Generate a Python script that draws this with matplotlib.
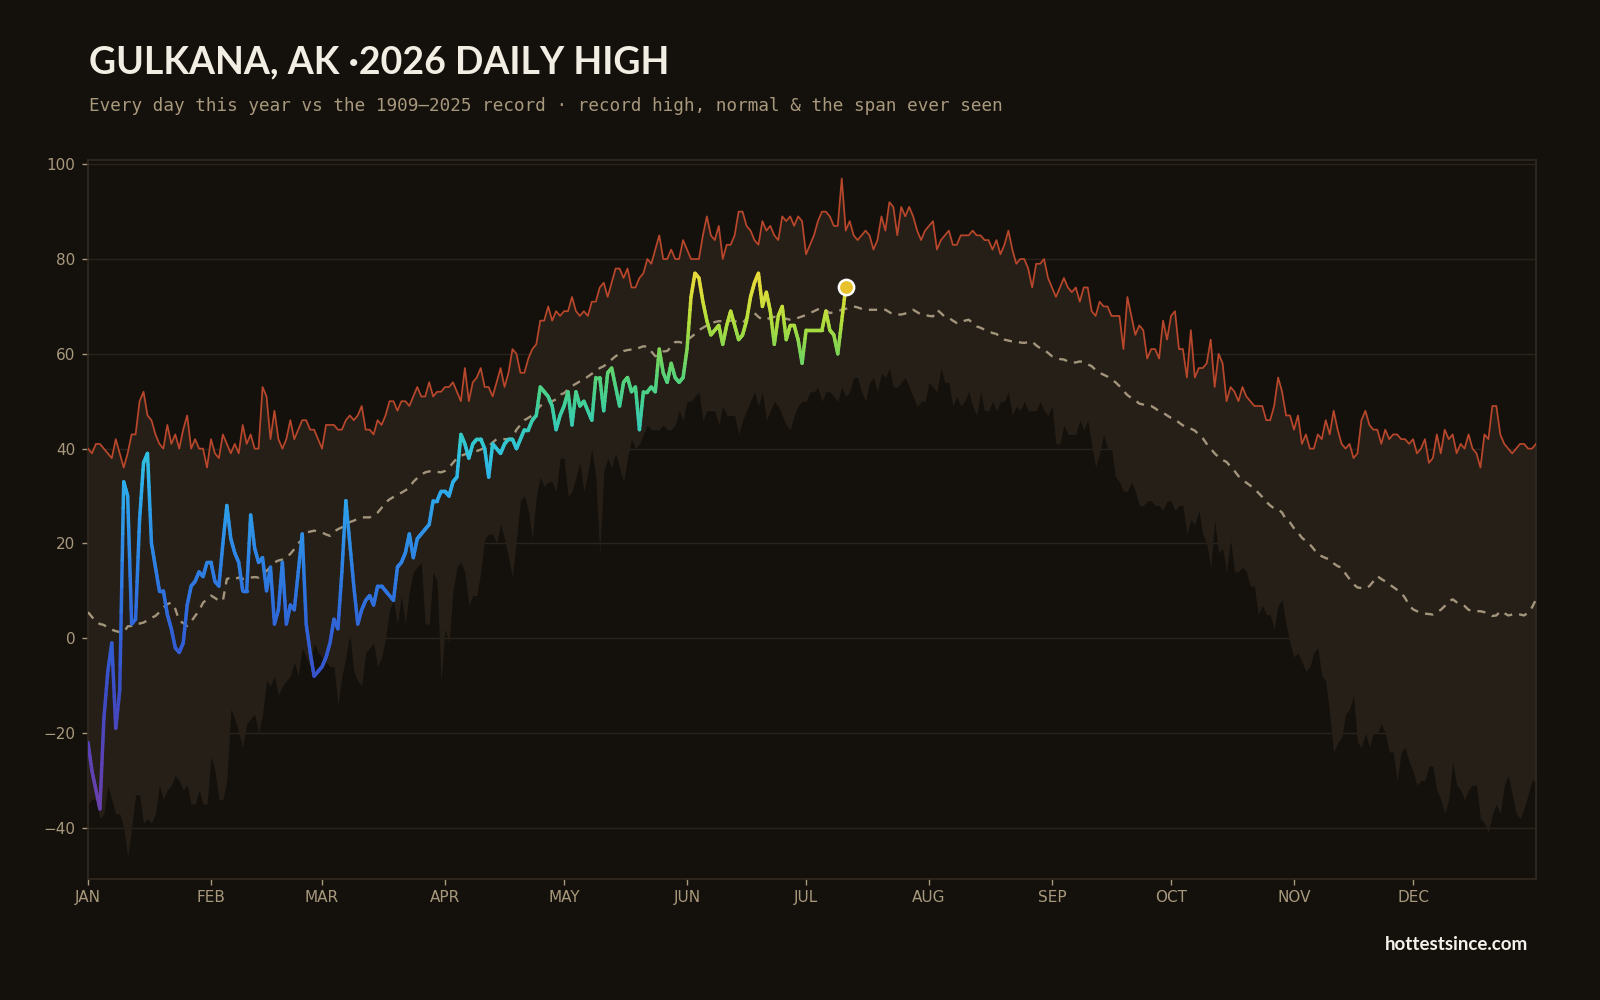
import numpy as np
import matplotlib
matplotlib.use("Agg")
import matplotlib.pyplot as plt
from matplotlib.collections import LineCollection
from matplotlib.colors import LinearSegmentedColormap, Normalize

# ---------------- data ----------------
month_labels = ["JAN", "FEB", "MAR", "APR", "MAY", "JUN", "JUL", "AUG", "SEP", "OCT", "NOV", "DEC"]
month_start = [0, 31, 59, 90, 120, 151, 181, 212, 243, 273, 304, 334]
y_ticks = [-40, -20, 0, 20, 40, 60, 80, 100]

record_high = [
    40, 39, 41, 41, 40, 39, 38, 42, 39, 36,
    39, 43, 43, 50, 52, 47, 46, 43, 41, 40,
    45, 41, 43, 40, 44, 47, 40, 42, 40, 40,
    36, 42, 39, 38, 43, 41, 39, 41, 39, 45,
    41, 43, 40, 40, 53, 51, 42, 48, 42, 40,
    42, 46, 42, 44, 46, 46, 44, 44, 42, 40,
    45, 45, 45, 44, 44, 46, 47, 46, 47, 49,
    44, 44, 43, 46, 45, 47, 50, 50, 48, 50,
    50, 49, 51, 53, 51, 51, 54, 51, 52, 52,
    53, 53, 54, 52, 50, 57, 50, 54, 55, 57,
    53, 53, 51, 54, 57, 53, 56, 61, 60, 56,
    56, 59, 61, 62, 67, 67, 70, 67, 69, 68,
    69, 69, 72, 69, 68, 69, 68, 71, 71, 74,
    75, 72, 75, 78, 78, 76, 78, 74, 74, 76,
    77, 80, 79, 82, 85, 80, 80, 82, 80, 80,
    84, 82, 80, 80, 80, 85, 89, 85, 84, 87,
    80, 83, 83, 85, 90, 90, 87, 86, 84, 83,
    88, 86, 87, 85, 84, 89, 88, 89, 87, 89,
    88, 81, 83, 85, 88, 90, 90, 89, 87, 87,
    97, 86, 88, 85, 84, 85, 86, 85, 82, 84,
    89, 86, 92, 91, 85, 91, 89, 91, 89, 86,
    84, 86, 87, 88, 82, 84, 85, 86, 83, 83,
    85, 85, 85, 86, 85, 85, 84, 84, 82, 84,
    81, 83, 86, 82, 79, 80, 80, 78, 74, 79,
    79, 80, 76, 74, 72, 74, 76, 74, 73, 74,
    71, 74, 74, 69, 68, 71, 70, 70, 68, 68,
    68, 61, 72, 68, 64, 66, 65, 59, 61, 61,
    59, 67, 63, 68, 69, 61, 61, 55, 65, 55,
    57, 57, 58, 63, 53, 60, 58, 50, 53, 52,
    50, 53, 51, 50, 49, 49, 49, 46, 46, 49,
    55, 52, 47, 47, 44, 47, 41, 43, 40, 40,
    43, 42, 46, 43, 48, 44, 41, 40, 41, 38,
    39, 46, 48, 45, 44, 44, 41, 44, 42, 43,
    43, 42, 42, 41, 42, 39, 40, 42, 37, 38,
    43, 39, 44, 42, 43, 39, 41, 40, 43, 40,
    39, 36, 43, 42, 49, 49, 43, 41, 40, 39,
    40, 41, 41, 40, 40, 41,
]

record_low = [
    -35, -34, -34, -38, -37, -31, -34, -37, -37, -40,
    -46, -40, -33, -33, -39, -38, -39, -37, -31, -34,
    -32, -31, -29, -30, -32, -31, -35, -35, -32, -35,
    -35, -25, -28, -34, -34, -30, -15, -17, -20, -23,
    -18, -17, -16, -20, -16, -9, -10, -8, -12, -10,
    -9, -8, -5, -8, -2, -4, -6, -1, -3, -4,
    -5, -6, -6, -14, -8, -4, 1, -7, -9, -10,
    -3, -2, -1, -6, -4, 0, 6, 8, 3, 9,
    3, 10, 14, 15, 16, 3, 3, 14, 12, -9,
    2, -1, 10, 15, 16, 14, 7, 9, 9, 14,
    21, 22, 22, 20, 24, 21, 17, 13, 21, 29,
    30, 27, 21, 30, 34, 32, 33, 33, 31, 38,
    38, 30, 31, 34, 37, 31, 35, 40, 34, 18,
    35, 38, 36, 39, 36, 33, 38, 42, 40, 41,
    43, 45, 44, 44, 44, 45, 44, 44, 45, 48,
    46, 50, 50, 51, 52, 46, 48, 48, 48, 45,
    49, 47, 47, 47, 43, 46, 48, 50, 52, 49,
    52, 46, 48, 50, 49, 47, 45, 44, 47, 49,
    50, 50, 52, 52, 53, 50, 52, 52, 51, 50,
    53, 51, 52, 55, 55, 52, 50, 54, 55, 52,
    56, 55, 57, 53, 53, 54, 55, 53, 51, 49,
    50, 50, 54, 53, 52, 57, 54, 54, 49, 51,
    49, 50, 52, 49, 47, 52, 48, 48, 50, 48,
    50, 50, 52, 47, 49, 48, 50, 48, 48, 48,
    50, 48, 47, 49, 41, 41, 45, 43, 43, 43,
    46, 44, 46, 41, 36, 39, 43, 40, 40, 34,
    33, 31, 31, 33, 31, 28, 28, 29, 29, 28,
    28, 27, 29, 29, 27, 28, 28, 22, 25, 24,
    27, 22, 20, 15, 25, 18, 19, 14, 21, 14,
    14, 15, 14, 11, 11, 5, 7, 5, 5, 2,
    7, 8, 3, -1, -4, -3, -5, -7, -6, -3,
    -2, -8, -9, -16, -24, -22, -21, -16, -15, -12,
    -22, -23, -20, -23, -20, -20, -18, -20, -24, -24,
    -30, -24, -23, -26, -28, -31, -30, -30, -27, -27,
    -32, -34, -37, -34, -26, -31, -32, -34, -32, -31,
    -31, -38, -39, -41, -37, -35, -37, -31, -29, -33,
    -37, -38, -36, -33, -30, -30,
]

normal = [
    5.5, 4.5, 3.5, 3.0, 2.8, 2.2, 1.8, 1.5, 1.3, 1.2,
    2.5, 2.6, 3.0, 3.1, 3.3, 3.8, 4.3, 4.7, 5.5, 6.5,
    7.2, 7.5, 6.2, 3.7, 3.2, 2.6, 3.5, 4.7, 5.8, 7.5,
    8.2, 9.0, 8.5, 7.9, 7.9, 12.5, 12.8, 12.5, 12.8, 12.5,
    12.8, 12.8, 12.9, 12.8, 13.5, 14.2, 15.0, 16.0, 16.4, 16.6,
    17.0, 17.8, 18.8, 20.0, 20.9, 22.3, 22.5, 22.7, 22.5, 22.3,
    21.9, 21.6, 22.5, 23.0, 23.4, 24.0, 24.5, 24.8, 25.2, 25.5,
    25.5, 25.5, 26.0, 26.5, 27.5, 28.6, 29.3, 29.8, 30.3, 30.7,
    31.2, 31.7, 33.0, 33.8, 34.5, 35.0, 35.2, 35.3, 35.1, 35.0,
    35.3, 36.0, 37.0, 38.0, 38.5, 38.8, 39.0, 39.1, 39.5, 39.8,
    40.2, 40.5, 41.3, 42.0, 42.0, 42.0, 42.0, 42.3, 44.0, 45.0,
    46.0, 46.5, 47.0, 48.0, 49.0, 49.6, 50.0, 50.0, 50.4, 51.4,
    51.7, 52.5, 53.2, 53.7, 54.2, 54.6, 55.2, 55.8, 56.4, 57.0,
    57.4, 58.0, 58.8, 59.5, 60.0, 60.6, 60.8, 60.9, 60.9, 61.3,
    61.6, 61.5, 60.5, 59.5, 59.8, 60.5, 60.6, 61.5, 62.5, 62.5,
    62.3, 63.0, 63.5, 64.2, 65.0, 65.5, 66.0, 66.5, 66.7, 66.9,
    66.9, 66.9, 67.0, 66.9, 66.7, 66.5, 67.5, 68.4, 68.6, 67.8,
    67.2, 67.3, 67.6, 67.8, 67.6, 67.6, 67.4, 67.2, 67.2, 67.6,
    67.9, 68.2, 68.6, 69.0, 69.4, 69.7, 69.2, 68.6, 68.8, 69.0,
    69.3, 69.5, 69.8, 70.0, 69.8, 69.5, 69.3, 69.3, 69.3, 69.3,
    69.3, 69.3, 68.8, 68.3, 68.3, 68.3, 68.5, 69.0, 69.3, 68.8,
    68.3, 68.2, 68.0, 67.9, 69.3, 68.6, 67.8, 67.6, 67.0, 66.5,
    66.5, 67.0, 67.2, 66.5, 65.8, 65.5, 65.1, 64.8, 64.4, 64.2,
    63.5, 63.0, 62.8, 62.6, 62.6, 62.4, 62.3, 62.5, 62.6, 61.8,
    61.2, 60.9, 60.2, 59.5, 59.2, 58.9, 58.8, 58.4, 58.1, 58.2,
    58.4, 58.3, 57.8, 57.4, 56.6, 56.0, 55.6, 55.2, 54.6, 54.0,
    53.2, 52.2, 51.3, 50.7, 50.2, 49.5, 49.3, 49.1, 49.0, 48.5,
    47.9, 47.6, 47.0, 46.5, 46.2, 45.5, 44.9, 44.5, 44.2, 43.8,
    43.0, 42.2, 41.0, 40.0, 39.0, 38.2, 37.6, 37.2, 36.2, 35.3,
    34.2, 33.5, 32.8, 32.2, 31.5, 30.7, 29.8, 28.8, 28.0, 27.4,
    27.2, 26.5, 25.0, 24.4, 23.2, 22.3, 21.2, 20.5, 19.8, 18.8,
    17.7, 17.3, 16.9, 16.7, 15.8, 15.2, 14.9, 13.6, 12.5, 11.4,
    10.7, 10.6, 10.5, 11.0, 12.0, 13.1, 12.5, 12.0, 11.4, 10.8,
    10.2, 9.6, 8.5, 7.0, 6.1, 5.7, 5.4, 5.2, 5.1, 5.0,
    5.5, 6.0, 6.8, 7.8, 8.2, 7.6, 7.2, 6.8, 6.0, 5.7,
    5.7, 5.7, 5.5, 5.2, 4.7, 4.8, 5.7, 5.3, 4.8, 5.0,
    5.2, 5.0, 4.8, 5.4, 6.5, 8.2,
]

highs_2026 = [
    -22, -28, -32, -36, -17, -7, -1, -19, -11, 33,
    30, 3, 4, 25, 37, 39, 20, 15, 10, 10,
    5, 2, -2, -3, -1, 7, 11, 12, 14, 13,
    16, 16, 12, 11, 20, 28, 21, 18, 16, 10,
    10, 26, 19, 16, 17, 10, 15, 3, 6, 16,
    3, 7, 6, 14, 22, 3, -3, -8, -7, -6,
    -4, -1, 4, 2, 14, 29, 20, 11, 3, 6,
    8, 9, 7, 11, 11, 10, 9, 8, 15, 16,
    18, 22, 17, 21, 22, 23, 24, 29, 29, 31,
    31, 30, 33, 34, 43, 41, 38, 41, 42, 42,
    40, 34, 41, 40, 39, 41, 42, 42, 40, 42,
    44, 44, 46, 47, 53, 52, 51, 49, 44, 47,
    49, 52, 45, 52, 49, 50, 48, 46, 55, 55,
    48, 56, 57, 53, 49, 54, 55, 52, 53, 44,
    52, 52, 53, 52, 61, 56, 54, 58, 55, 54,
    55, 61, 72, 77, 76, 71, 67, 64, 65, 66,
    62, 66, 69, 66, 63, 64, 67, 72, 75, 77,
    70, 73, 69, 62, 68, 70, 63, 66, 66, 63,
    58, 65, 65, 65, 65, 65, 69, 65, 64, 60,
    67, 74,
]

# ---------------- style ----------------
BG = "#14110d"
BAND = "#261f17"
GRID = "#2a231c"
SPINE = "#322a21"
TXT = "#a8987c"
REC_HI = "#b8472b"
NORMAL_C = "#a3957c"

plt.rcParams["font.family"] = ["DejaVu Sans"]

fig = plt.figure(figsize=(16, 10), dpi=100, facecolor=BG)
ax = fig.add_axes([0.055, 0.121, 0.905, 0.719])
ax.set_facecolor(BG)

days = np.arange(len(record_high))
days26 = np.arange(len(highs_2026))

ax.fill_between(days, record_low, record_high, color=BAND, lw=0, zorder=1)
ax.plot(days, record_high, color=REC_HI, lw=1.25, zorder=3)
ax.plot(days, normal, color=NORMAL_C, lw=1.7, ls=(0, (3.5, 3.0)), zorder=3)

# 2026 coloured line
stops = [(-40, "#7040a8"), (-25, "#5a42b6"), (-12, "#3c4cc4"), (0, "#3160d6"),
         (12, "#2e78e0"), (25, "#2e98e8"), (33, "#2eb0ea"), (39, "#30c2de"),
         (43, "#34c8c4"), (49, "#3fcf9c"), (55, "#56d27a"), (61, "#80d554"),
         (67, "#b2de3c"), (73, "#dadd3a"), (80, "#f2d43c")]
vmin, vmax = -40, 80
cmap = LinearSegmentedColormap.from_list(
    "hs", [((v - vmin) / (vmax - vmin), c) for v, c in stops])
norm = Normalize(vmin, vmax)

nsub = 8
segs, vals = [], []
for i in range(len(highs_2026) - 1):
    x0, x1 = days26[i], days26[i + 1]
    y0, y1 = highs_2026[i], highs_2026[i + 1]
    for k in range(nsub):
        t0, t1 = k / nsub, (k + 1) / nsub
        segs.append([(x0 + (x1 - x0) * t0, y0 + (y1 - y0) * t0),
                     (x0 + (x1 - x0) * t1, y0 + (y1 - y0) * t1)])
        vals.append(y0 + (y1 - y0) * (t0 + t1) / 2)
lc = LineCollection(segs, cmap=cmap, norm=norm, linewidths=2.5,
                    capstyle="round", joinstyle="round", zorder=4)
lc.set_array(np.array(vals))
ax.add_collection(lc)

ax.plot(days26[-1], highs_2026[-1], "o", ms=11, mfc="#e8c22c", mec="white",
        mew=1.8, zorder=5)

# axes
ax.set_xlim(0, 365)
ax.set_ylim(-50.8, 100.9)
ax.set_yticks(y_ticks)
ax.set_yticklabels([f"{t}".replace("-", "\u2212") for t in y_ticks])
ax.set_xticks(month_start)
ax.set_xticklabels(month_labels)
ax.grid(axis="y", color=GRID, lw=1.0)
ax.set_axisbelow(True)
ax.tick_params(axis="both", colors=TXT, labelsize=11, length=4, width=1, pad=5)
ax.tick_params(axis="x", pad=4)
for s in ax.spines.values():
    s.set_color(SPINE)
    s.set_linewidth(1.2)

fig.text(0.0555, 0.938, "GULKANA, AK \u00b72026 DAILY HIGH", fontsize=27,
         fontweight="bold", family=["Lato", "DejaVu Sans"], color="#f3eee3",
         va="center", ha="left")
fig.text(0.0555, 0.894,
         "Every day this year vs the 1909\u20132025 record \u00b7 record high, normal & the span ever seen",
         fontsize=12.7, family=["DejaVu Sans Mono"], color=TXT, va="center", ha="left")
fig.text(0.955, 0.056, "hottestsince.com", fontsize=13.5, fontweight="bold",
         family=["Lato", "DejaVu Sans"], color="#f6f2ea", va="center", ha="right")

fig.savefig("out.png", dpi=100, facecolor=BG)
